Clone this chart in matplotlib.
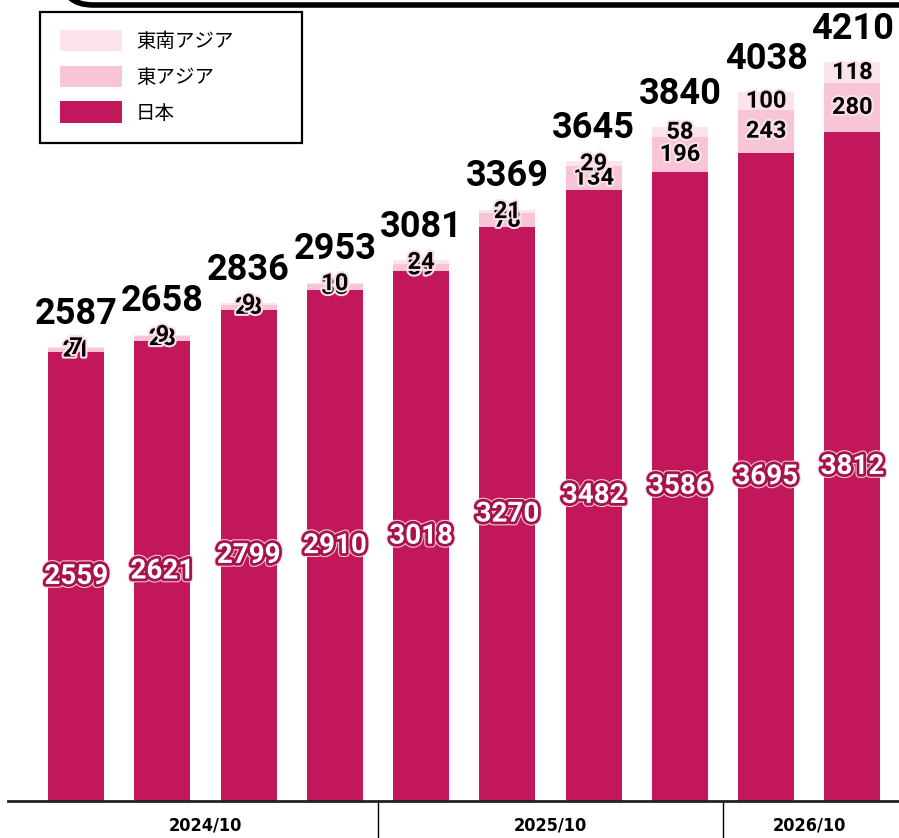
import matplotlib
matplotlib.use("Agg")
import matplotlib.pyplot as plt
import matplotlib.patheffects as pe
from matplotlib.patches import FancyBboxPatch, Rectangle
import numpy as np

# data
japan = [2559, 2621, 2799, 2910, 3018, 3270, 3482, 3586, 3695, 3812]
east_asia = [21, 28, 28, 33, 39, 78, 134, 196, 243, 280]
se_asia = [7, 9, 9, 10, 24, 21, 29, 58, 100, 118]
totals = [2587, 2658, 2836, 2953, 3081, 3369, 3645, 3840, 4038, 4210]
groups = ["2024/10", "2025/10", "2026/10"]
group_bars = [(0, 3), (4, 7), (8, 9)]

c_jp = "#C2185B"
c_ea = "#F8C4D8"
c_sea = "#FCE4EC"

fig = plt.figure(figsize=(8.99, 8.38), dpi=100)
ax = fig.add_axes([8/899, 37/838, 891/899, 801/838])

x = np.arange(len(japan))
jp = np.array(japan)
ea = np.array(east_asia)
sea = np.array(se_asia)
w = 0.65

b1 = ax.bar(x, jp, w, color=c_jp, label="日本")
b2 = ax.bar(x, ea, w, bottom=jp, color=c_ea, label="東アジア")
b3 = ax.bar(x, sea, w, bottom=jp + ea, color=c_sea, label="東南アジア")

num_font = "Roboto"
jp_fx = [pe.Stroke(linewidth=5.5, foreground="#F3D0DD"),
         pe.Stroke(linewidth=4, foreground="#A8124C"), pe.Normal()]
small_fx = [pe.withStroke(linewidth=3, foreground="#FBE0EA")]
for i in range(len(x)):
    ax.text(x[i], jp[i] / 2, str(japan[i]), ha="center", va="center",
            fontsize=20, fontweight="bold", family=num_font, color="white",
            path_effects=jp_fx)
    ax.text(x[i], jp[i] + ea[i] / 2, str(east_asia[i]), ha="center", va="center",
            fontsize=17, fontweight="bold", family=num_font, color="black",
            path_effects=small_fx)
    ax.text(x[i], jp[i] + ea[i] + sea[i] / 2, str(se_asia[i]), ha="center", va="center",
            fontsize=17, fontweight="bold", family=num_font, color="black",
            path_effects=small_fx)
    ax.annotate(str(totals[i]), (x[i], totals[i]), xytext=(0, 11),
                textcoords="offset points", ha="center", va="bottom",
                fontsize=26, fontweight="bold", family=num_font, color="black")

ax.set_xlim(-0.79, 9.54)
ax.set_ylim(0, 4564)
ax.set_yticks([])
ax.set_xticks([])
for s in ["top", "right", "left"]:
    ax.spines[s].set_visible(False)
ax.spines["bottom"].set_linewidth(2)
ax.spines["bottom"].set_color("#222222")

# group labels and separators below the axis
trans = ax.get_xaxis_transform()
for name, (a, b) in zip(groups, group_bars):
    ax.text((a + b) / 2, -0.031, name, transform=trans, ha="center", va="center",
            fontsize=13, fontweight="bold", family="DejaVu Sans", stretch="condensed")
for a, b in group_bars[:-1]:
    sep = b + 0.5
    ax.plot([sep, sep], [0, -0.047], transform=trans, color="black", lw=1, clip_on=False)

# legend: frameless legend plus a drawn square frame
leg = fig.legend(handles=[b3, b2, b1], loc="upper left",
                 bbox_to_anchor=(60/899, 1 - 30/838),
                 prop={"family": ["Noto Sans CJK JP", "DejaVu Sans"], "size": 14},
                 frameon=False, handlelength=3.2, handleheight=1.3,
                 borderpad=0, labelspacing=0.7, handletextpad=0.7,
                 borderaxespad=0)
fig.patches.append(Rectangle((40/899, 1 - 143/838), 262/899, 131/838,
                             transform=fig.transFigure, facecolor="white",
                             edgecolor="black", linewidth=1.6, zorder=5))

# cut-off rounded box at the top of the image
fig.patches.append(FancyBboxPatch((62/899, 1 - 5/838), 900/899, 60/838,
                                  boxstyle="round,pad=0,rounding_size=0.035",
                                  transform=fig.transFigure, facecolor="white",
                                  edgecolor="black", linewidth=4, zorder=10))

fig.savefig("out.png", dpi=100)
